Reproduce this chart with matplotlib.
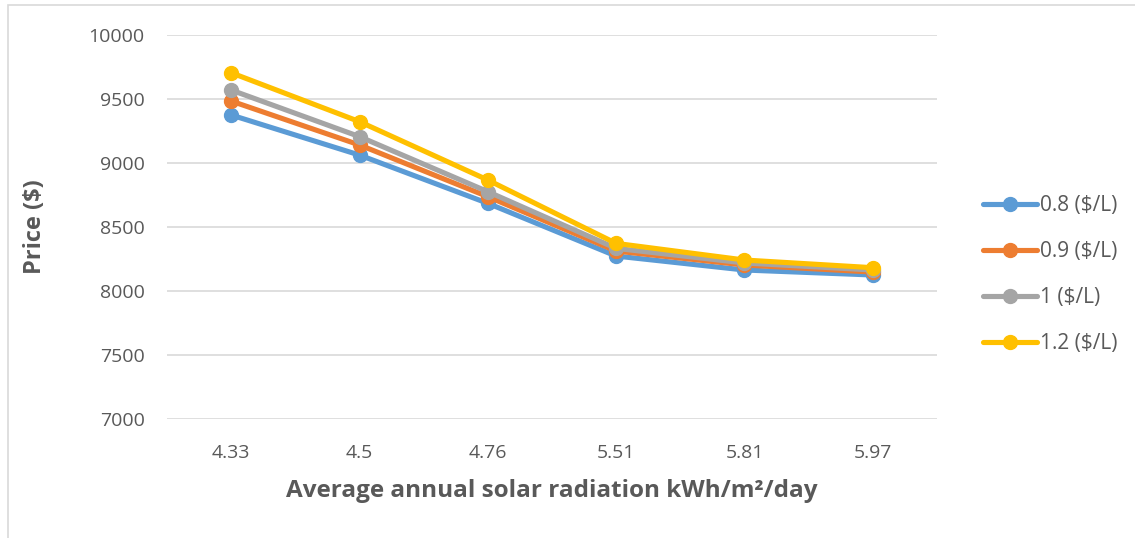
import matplotlib
matplotlib.use("Agg")
import matplotlib.pyplot as plt
from matplotlib.patches import Rectangle

categories = ["4.33", "4.5", "4.76", "5.51", "5.81", "5.97"]
series_names = ["0.8 ($/L)", "0.9 ($/L)", "1 ($/L)", "1.2 ($/L)"]
s_08 = [9375, 9062, 8685, 8273, 8164, 8125]
s_09 = [9484, 9141, 8737, 8312, 8203, 8148]
s_10 = [9570, 9206, 8776, 8333, 8219, 8164]
s_12 = [9705, 9323, 8867, 8372, 8242, 8182]
colors = ["#5B9BD5", "#ED7D31", "#A5A5A5", "#FFC000"]
yticks = [7000, 7500, 8000, 8500, 9000, 9500, 10000]

plt.rcParams['font.family'] = ['Open Sans', 'DejaVu Sans']

fig = plt.figure(figsize=(11.35, 5.38), dpi=100)
W, H = 1135, 538
# outer chart border (top and left visible)
fig.patches.append(Rectangle((8 / W, -0.05), 1.2, (538 - 5) / H + 0.05,
                             transform=fig.transFigure, fill=False,
                             edgecolor="#D9D9D9", linewidth=1.2))

ax = fig.add_axes([167 / W, (H - 419) / H, (937 - 167) / W, (419 - 35) / H])
x = list(range(len(categories)))
for vals, name, c in zip([s_08, s_09, s_10, s_12], series_names, colors):
    ax.plot(x, vals, color=c, linewidth=3.7, marker='o', markersize=10,
            label=name, solid_capstyle='round', solid_joinstyle='round')

ax.set_xlim(-0.5, len(categories) - 0.5)
ax.set_ylim(7000, 10000)
ax.set_yticks(yticks)
ax.set_xticks(x)
ax.set_xticklabels(categories)
ax.grid(axis='y', color='#D9D9D9', linewidth=1.2)
ax.set_axisbelow(True)
for s in ax.spines.values():
    s.set_visible(False)
ax.tick_params(axis='both', length=0, labelsize=14, colors='#595959')
ax.tick_params(axis='x', pad=18)
ax.tick_params(axis='y', pad=16)
ax.set_ylabel("Price ($)", fontsize=17, fontweight='bold', color='#595959', labelpad=30)
ax.set_xlabel("Average annual solar radiation kWh/m²/day", fontsize=17.5,
              fontweight='bold', color='#595959', labelpad=12)

leg = ax.legend(loc='center left', frameon=False, fontsize=15, labelcolor='#595959',
                handlelength=2.6, handletextpad=0.15, labelspacing=1.2)
leg.set_bbox_to_anchor((964 / W, (H - 275) / H), transform=fig.transFigure)

fig.savefig("out.png", dpi=100)
